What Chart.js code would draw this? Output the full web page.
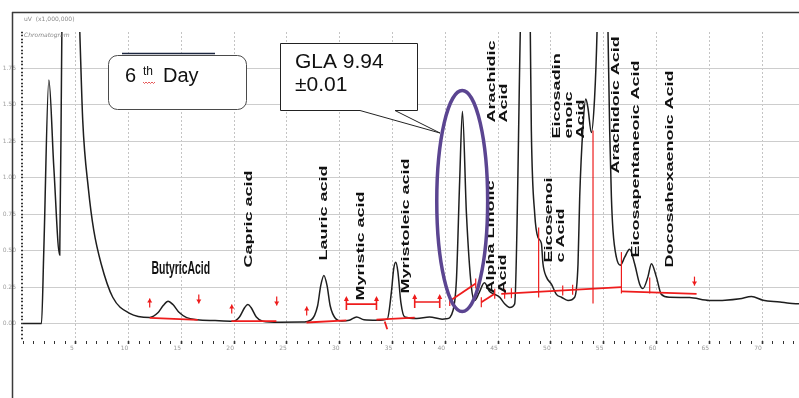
<!DOCTYPE html>
<html>
<head>
<meta charset="utf-8">
<title>Chromatogram - 6th Day</title>
<script src="https://cdn.jsdelivr.net/npm/chart.js@4.4.1/dist/chart.umd.min.js"></script>
<style>
    html, body { margin: 0; padding: 0; background: #fff; }
    #wrap { position: relative; width: 799px; height: 398px; }
</style>
</head>
<body>
<div id="wrap"><canvas id="chromChart" width="799" height="398"></canvas></div>
<script>
// Retention time (min) and detector signal (uV x1,000,000)
const retentionTime = [
    0, 1.75, 1.97, 2.45, 2.92, 3.48, 3.68, 4.5, 5.38, 5.66, 6.2, 6.7, 7.4, 8.5, 10.1, 12.0,
    12.8, 13.3, 13.74, 14.2, 14.8, 15.5, 16.5, 18.2, 19.9,
    20.5, 21.0, 21.3, 21.6, 22.1, 22.7, 24.3, 26.4,
    27.3, 27.9, 28.2, 28.5, 28.8, 29.1, 29.6, 30.2, 30.9, 31.6, 32.3, 33.5,
    34.5, 34.9, 35.1, 35.3, 35.5, 35.8, 36.15, 37.3, 38.5, 39.7, 40.1,
    40.73, 41.05, 41.36, 41.62, 42.0, 42.47, 42.78, 43.2, 43.7, 44.2, 44.68, 45.15, 45.62, 46.1, 46.57,
    47.1, 47.6, 48.05, 48.15, 48.47, 48.78, 49.1, 49.25, 49.57, 50.05, 50.52, 51.0, 51.62, 52.25,
    52.57, 52.73, 53.04, 53.3, 53.51, 53.83, 54.14, 54.37, 54.9, 55.41, 55.57, 55.73, 55.88, 56.2,
    56.58, 56.99, 57.46, 57.93, 58.41, 58.72, 59.19, 59.52, 59.99, 60.46, 61.25, 63.14, 65.03,
    66.5, 67.9, 69.0, 70.1, 71.7, 72.6, 73.5
];
const detectorSignal = [
    0, 0, 0.5, 1.67, 1.07, 0.47, 2.0, 4.0, 2.0, 1.39, 0.92, 0.64, 0.41, 0.18, 0.07, 0.042,
    0.075, 0.125, 0.153, 0.13, 0.075, 0.04, 0.026, 0.02, 0.016,
    0.045, 0.11, 0.13, 0.11, 0.045, 0.016, 0.009, 0.01,
    0.025, 0.12, 0.26, 0.33, 0.26, 0.12, 0.035, 0.018, 0.022, 0.045, 0.025, 0.022,
    0.03, 0.22, 0.37, 0.42, 0.36, 0.14, 0.045, 0.035, 0.045, 0.03, 0.032,
    0.089, 0.295, 0.98, 1.457, 0.755, 0.25, 0.158, 0.21, 0.28, 0.22, 0.2, 0.18, 0.135, 0.11, 0.135,
    2.0, 4.0, 2.0, 1.32, 0.75, 0.59, 0.55, 0.41, 0.32, 0.27, 0.2, 0.18, 0.158, 0.18,
    0.41, 0.87, 1.35, 1.54, 1.48, 1.31, 1.55, 2.0, 4.0, 2.0, 1.32, 0.87, 0.64, 0.455,
    0.4, 0.455, 0.51, 0.41, 0.27, 0.24, 0.32, 0.41, 0.32, 0.2, 0.18, 0.178, 0.158,
    0.16, 0.17, 0.185, 0.16, 0.148, 0.139, 0.135
];

// Axis ticks
const xMajorTicks = [5, 10, 15, 20, 25, 30, 35, 40, 45, 50, 55, 60, 65, 70];
const yMajorTicks = [0, 0.25, 0.5, 0.75, 1.0, 1.25, 1.5, 1.75];

// Peak names (anchor = retention time / signal at the foot of the text)
const peakNames = [
    ['Capric acid'], ['Lauric acid'], ['Myristic acid'], ['Myristoleic acid'],
    ['Alpha Linolic', 'Acid'], ['Arachidic', 'Acid'], ['Eicosenoi', 'c Acid'],
    ['Eicosadin', 'enoic', 'Acid'], ['Arachidoic Acid'], ['Eicosapentaneoic Acid'],
    ['Docosahexaenoic Acid']
];
const peakNameTime = [21.38, 28.48, 32.04, 36.3, 44.3, 44.44, 49.84, 50.6, 56.2, 58.09, 61.34];
const peakNameSignal = [0.384, 0.432, 0.158, 0.206, 0.206, 1.379, 0.419, 1.27, 1.03, 0.453, 0.384];

// Red integration marks (time, signal)
const baselineSegments = [
    [12.0, 0.039, 16.55, 0.025],
    [19.74, 0.016, 24.0, 0.016],
    [26.85, 0.007, 30.63, 0.021],
    [33.48, 0.027, 37.1, 0.041],
    [34.26, 0.014, 34.5, -0.04],
    [40.42, 0.154, 42.88, 0.275],
    [43.41, 0.146, 44.68, 0.204],
    [45.3, 0.204, 56.68, 0.249],
    [56.68, 0.22, 63.8, 0.204]
];
const widthBars = [[30.63, 33.48, 0.133], [37.1, 39.47, 0.148]];
const splitLines = [[48.84, 0.659, 0.178], [53.99, 1.325, 0.137], [56.68, 0.49, 0.206], [59.36, 0.316, 0.206]];
const splitCaps = [[40.42, 0.154], [42.88, 0.275], [43.41, 0.146], [44.68, 0.204], [45.62, 0.205],
    [46.26, 0.208], [51.12, 0.227], [52.06, 0.231]];
const peakArrows = [[12.0, 0.172, 'up'], [16.65, 0.137, 'down'], [19.77, 0.13, 'up'],
    [24.03, 0.124, 'down'], [26.87, 0.117, 'up'], [63.6, 0.26, 'down']];

const isMajor = (v, list) => list.some(m => Math.abs(m - v) < 1e-6);

/**
 * Draws the red integration marks, the peak names and the GLA ellipse
 */
const annotationPlugin = {
    id: 'chromAnnotations',
    afterDatasetsDraw(chart) {
        const ctx = chart.ctx;
        const x = chart.scales.x;
        const y = chart.scales.y;
        const px = t => x.getPixelForValue(t);
        const py = v => y.getPixelForValue(v);

        ctx.save();
        ctx.strokeStyle = '#ee1c1c';
        ctx.fillStyle = '#ee1c1c';

        // baselines
        ctx.lineWidth = 1.8;
        baselineSegments.forEach(s => {
            ctx.beginPath();
            ctx.moveTo(px(s[0]), py(s[1]));
            ctx.lineTo(px(s[2]), py(s[3]));
            ctx.stroke();
        });

        // width bars with end caps
        ctx.lineWidth = 1.6;
        widthBars.forEach(b => {
            const yy = py(b[2]);
            ctx.beginPath();
            ctx.moveTo(px(b[0]), yy);
            ctx.lineTo(px(b[1]), yy);
            [b[0], b[1]].forEach(t => {
                ctx.moveTo(px(t), yy - 6);
                ctx.lineTo(px(t), yy + 6);
            });
            ctx.stroke();
            [b[0], b[1]].forEach(t => {
                ctx.beginPath();
                ctx.moveTo(px(t), yy - 8);
                ctx.lineTo(px(t) - 2.5, yy - 3);
                ctx.lineTo(px(t) + 2.5, yy - 3);
                ctx.closePath();
                ctx.fill();
            });
        });

        // split lines and small caps
        ctx.lineWidth = 1.2;
        splitLines.forEach(l => {
            ctx.beginPath();
            ctx.moveTo(px(l[0]), py(l[1]));
            ctx.lineTo(px(l[0]), py(l[2]));
            ctx.stroke();
        });
        splitCaps.forEach(c => {
            ctx.beginPath();
            ctx.moveTo(px(c[0]), py(c[1]) - 5);
            ctx.lineTo(px(c[0]), py(c[1]) + 5);
            ctx.stroke();
        });

        // start / end arrows
        peakArrows.forEach(a => {
            const ax = px(a[0]);
            const ay = py(a[1]);
            const d = a[2] === 'up' ? 1 : -1;
            ctx.beginPath();
            ctx.moveTo(ax, ay);
            ctx.lineTo(ax, ay + d * 9);
            ctx.stroke();
            ctx.beginPath();
            ctx.moveTo(ax, ay);
            ctx.lineTo(ax - 2.5, ay + d * 4);
            ctx.lineTo(ax + 2.5, ay + d * 4);
            ctx.closePath();
            ctx.fill();
        });
        ctx.restore();

        // peak names, bold and narrow like the scanned original
        ctx.save();
        ctx.fillStyle = '#111';
        ctx.font = 'bold 18px "Liberation Sans", Arial, sans-serif';
        ctx.textBaseline = 'alphabetic';
        ctx.textAlign = 'left';
        ctx.translate(px(12.17), py(0.343));
        ctx.scale(0.58, 1);
        ctx.fillText('ButyricAcid', 0, 0);
        ctx.restore();

        peakNames.forEach((lines, i) => {
            ctx.save();
            ctx.translate(px(peakNameTime[i]), py(peakNameSignal[i]));
            ctx.scale(0.58, 1);
            ctx.rotate(-Math.PI / 2);
            ctx.fillStyle = '#111';
            ctx.font = 'bold 18px "Liberation Sans", Arial, sans-serif';
            ctx.textAlign = 'left';
            ctx.textBaseline = 'middle';
            lines.forEach((ln, j) => ctx.fillText(ln, 0, j * 21));
            ctx.restore();
        });

        // purple ellipse round the GLA peak
        ctx.save();
        ctx.strokeStyle = '#5b4591';
        ctx.lineWidth = 3.5;
        ctx.beginPath();
        ctx.ellipse(px(41.6), py(0.84), px(41.6) - px(39.19), py(0.082) - py(0.84), 0, 0, Math.PI * 2);
        ctx.stroke();
        ctx.restore();
    },

    afterDraw(chart) {
        const ctx = chart.ctx;
        ctx.save();

        // outer frame
        ctx.strokeStyle = '#3a3a3a';
        ctx.lineWidth = 1.5;
        ctx.beginPath();
        ctx.moveTo(12, 12.5);
        ctx.lineTo(799, 12.5);
        ctx.moveTo(12.5, 12);
        ctx.lineTo(12.5, 398);
        ctx.stroke();

        // header
        ctx.fillStyle = '#8a8a8a';
        ctx.font = '6px "DejaVu Sans", sans-serif';
        ctx.fillText('uV  (x1,000,000)', 24, 21);
        ctx.font = 'italic 6px "DejaVu Sans", sans-serif';
        ctx.fillText('Chromatogram', 24, 37);

        // "6th Day" box
        ctx.fillStyle = '#fff';
        ctx.strokeStyle = '#4a4a4a';
        ctx.lineWidth = 1;
        ctx.beginPath();
        ctx.roundRect(108.5, 55.5, 138, 54, 9);
        ctx.fill();
        ctx.stroke();
        ctx.strokeStyle = '#1c2740';
        ctx.lineWidth = 1.5;
        ctx.beginPath();
        ctx.moveTo(122, 53.5);
        ctx.lineTo(215, 53.5);
        ctx.stroke();

        ctx.fillStyle = '#111';
        ctx.font = '20px "Liberation Sans", Arial, sans-serif';
        ctx.fillText('6', 125, 82);
        ctx.fillText('Day', 163, 82);
        ctx.font = '12px "Liberation Sans", Arial, sans-serif';
        ctx.fillText('th', 143, 75);
        ctx.strokeStyle = '#e03030';
        ctx.lineWidth = 0.8;
        ctx.beginPath();
        for (let i = 0; i <= 8; i++) {
            const wx = 143 + i * 1.5;
            const wy = i % 2 === 0 ? 82 : 83.5;
            if (i === 0) ctx.moveTo(wx, wy); else ctx.lineTo(wx, wy);
        }
        ctx.stroke();

        // GLA callout
        ctx.fillStyle = '#fff';
        ctx.strokeStyle = '#222';
        ctx.lineWidth = 1;
        ctx.beginPath();
        ctx.moveTo(280.5, 43.5);
        ctx.lineTo(417.5, 43.5);
        ctx.lineTo(417.5, 110.5);
        ctx.lineTo(395, 110.5);
        ctx.lineTo(440, 133);
        ctx.lineTo(360, 110.5);
        ctx.lineTo(280.5, 110.5);
        ctx.closePath();
        ctx.fill();
        ctx.stroke();
        ctx.fillStyle = '#111';
        ctx.font = '21px "Liberation Sans", Arial, sans-serif';
        ctx.fillText('GLA 9.94', 295, 68);
        ctx.fillText('\u00b10.01', 295, 91);

        ctx.restore();
    }
};

document.addEventListener('DOMContentLoaded', function() {
    const ctx = document.getElementById('chromChart').getContext('2d');
    const points = retentionTime.map((t, i) => ({ x: t, y: detectorSignal[i] }));

    new Chart(ctx, {
        type: 'line',
        data: {
            datasets: [{
                label: 'Chromatogram',
                data: points,
                borderColor: '#1e1e1e',
                borderWidth: 1.5,
                pointRadius: 0,
                fill: false,
                cubicInterpolationMode: 'monotone'
            }]
        },
        options: {
            responsive: false,
            animation: false,
            devicePixelRatio: 1,
            layout: { padding: { top: 32, left: 0, right: 0, bottom: 0 } },
            plugins: {
                legend: { display: false },
                tooltip: { enabled: false }
            },
            scales: {
                x: {
                    type: 'linear',
                    min: 0,
                    max: 73.5,
                    afterFit: function(scale) { scale.height = 57; },
                    border: { display: false, dash: [2, 2] },
                    grid: {
                        color: c => (isMajor(c.tick.value, xMajorTicks) ? '#c4c4c4' : 'transparent'),
                        lineWidth: 1,
                        tickLength: 3,
                        tickColor: '#333',
                        tickWidth: c => (isMajor(c.tick.value, xMajorTicks) ? 1.6 : 1)
                    },
                    ticks: {
                        stepSize: 1,
                        autoSkip: false,
                        maxTicksLimit: 200,
                        includeBounds: false,
                        maxRotation: 0,
                        padding: 1,
                        labelOffset: -4,
                        color: '#9a9a9a',
                        font: { size: 6, family: '"DejaVu Sans", sans-serif' },
                        callback: v => (isMajor(v, xMajorTicks) ? String(v) : '')
                    }
                },
                y: {
                    type: 'linear',
                    min: -0.12,
                    max: 2.0,
                    afterFit: function(scale) { scale.width = 23; },
                    border: { display: false },
                    grid: {
                        color: c => (isMajor(c.tick.value, yMajorTicks) ? '#cdcdcd' : 'transparent'),
                        lineWidth: 1,
                        tickLength: 2,
                        tickColor: '#333',
                        tickWidth: 1.5
                    },
                    ticks: {
                        stepSize: 0.025,
                        autoSkip: false,
                        maxTicksLimit: 200,
                        includeBounds: false,
                        padding: 5,
                        color: '#a0a0a0',
                        font: { size: 6, family: '"DejaVu Sans", sans-serif' },
                        callback: v => (isMajor(v, yMajorTicks) ? v.toFixed(2) : '')
                    }
                }
            }
        },
        plugins: [annotationPlugin]
    });
});
</script>
</body>
</html>
